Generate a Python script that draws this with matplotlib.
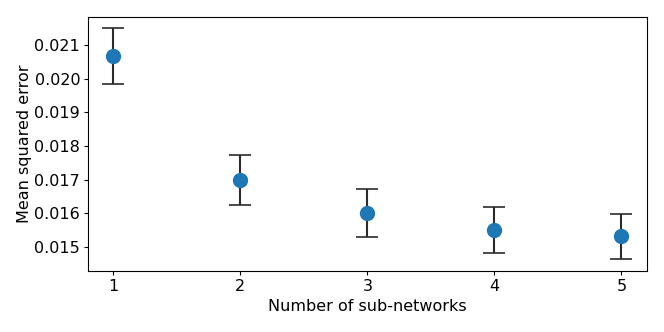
import matplotlib
matplotlib.use('Agg')
import matplotlib.pyplot as plt
from matplotlib.ticker import MultipleLocator

n_subnets = [1, 2, 3, 4, 5]
mse = [0.02067, 0.01699, 0.01600, 0.01550, 0.01531]
mse_err = [0.00083, 0.00075, 0.00071, 0.00069, 0.00068]

fig = plt.figure(figsize=(6.64, 3.32), dpi=100)
ax = fig.add_axes([0.1325, 0.184, 0.8415, 0.766])
ax.errorbar(n_subnets, mse, yerr=mse_err, fmt='o', color='tab:blue',
            markersize=10, ecolor='#2b2b2b', elinewidth=1.5, capsize=8,
            capthick=1.2)
ax.set_xticks(n_subnets)
ax.yaxis.set_major_locator(MultipleLocator(0.001))
ax.tick_params(labelsize=11.5, length=2.8, pad=2.8)
ax.set_xlabel('Number of sub-networks', fontsize=11.5)
ax.set_ylabel('Mean squared error', fontsize=11.5, labelpad=2)
fig.savefig('out.png', dpi=100)
